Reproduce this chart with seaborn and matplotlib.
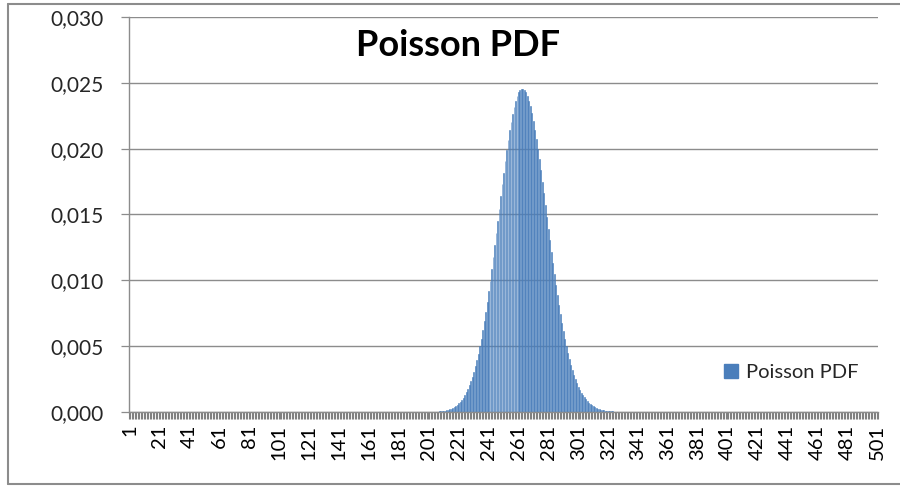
import matplotlib
matplotlib.use("Agg")
import matplotlib.pyplot as plt
import seaborn as sns
import pandas as pd
import numpy as np
from matplotlib.ticker import FuncFormatter
from matplotlib.lines import Line2D

# ---------------- data ----------------
categories = list(range(1, 502))          # category axis 1..501
k_values = list(range(181, 361))          # categories that carry a value
pdf_values = [
    1.25e-8, 1.81e-8, 2.61e-8, 3.74e-8, 5.34e-8, 7.58e-8, 1.07e-7, 1.50e-7, 2.10e-7, 2.92e-7,   # 181-190
    4.04e-7, 5.55e-7, 7.59e-7, 1.03e-6, 1.40e-6, 1.89e-6, 2.53e-6, 3.37e-6, 4.47e-6, 5.90e-6,   # 191-200
    7.75e-6, 1.01e-5, 1.31e-5, 1.70e-5, 2.20e-5, 2.81e-5, 3.59e-5, 4.55e-5, 5.75e-5, 7.23e-5,   # 201-210
    9.04e-5, 0.000113, 0.000140, 0.000172, 0.000211, 0.000258, 0.000314, 0.000381, 0.000459, 0.000551,  # 211-220
    0.000658, 0.000782, 0.000926, 0.001091, 0.001281, 0.001496, 0.001740, 0.002014, 0.002323, 0.002666,  # 221-230
    0.003046, 0.003466, 0.003927, 0.004430, 0.004977, 0.005567, 0.006201, 0.006878, 0.007597, 0.008357,  # 231-240
    0.009154, 0.009986, 0.010849, 0.011738, 0.012648, 0.013573, 0.014507, 0.015443, 0.016373, 0.017290,  # 241-250
    0.018185, 0.019052, 0.019880, 0.020662, 0.021392, 0.022060, 0.022661, 0.023188, 0.023636, 0.023999,  # 251-260
    0.024275, 0.024460, 0.024553, 0.024553, 0.024460, 0.024276, 0.024004, 0.023645, 0.023206, 0.022690,  # 261-270
    0.022104, 0.021454, 0.020746, 0.019989, 0.019190, 0.018355, 0.017494, 0.016613, 0.015720, 0.014821,  # 271-280
    0.013925, 0.013036, 0.012161, 0.011304, 0.010471, 0.009665, 0.008891, 0.008150, 0.007445, 0.006777,  # 281-290
    0.006148, 0.005559, 0.005008, 0.004497, 0.004024, 0.003589, 0.003190, 0.002826, 0.002495, 0.002195,  # 291-300
    0.001925, 0.001683, 0.001466, 0.001274, 0.001103, 0.000952, 0.000819, 0.000702, 0.000599, 0.000510,  # 301-310
    0.000433, 0.000367, 0.000309, 0.000260, 0.000218, 0.000182, 0.000152, 0.000126, 0.000104, 8.60e-5,   # 311-320
    7.07e-5, 5.80e-5, 4.74e-5, 3.86e-5, 3.14e-5, 2.54e-5, 2.05e-5, 1.65e-5, 1.32e-5, 1.06e-5,   # 321-330
    8.46e-6, 6.73e-6, 5.33e-6, 4.22e-6, 3.32e-6, 2.61e-6, 2.05e-6, 1.60e-6, 1.24e-6, 9.66e-7,   # 331-340
    7.48e-7, 5.77e-7, 4.44e-7, 3.41e-7, 2.61e-7, 1.99e-7, 1.51e-7, 1.15e-7, 8.7e-8, 6.6e-8,     # 341-350
    4.9e-8, 3.7e-8, 2.8e-8, 2.1e-8, 1.5e-8, 1.1e-8, 8.4e-9, 6.2e-9, 4.5e-9, 3.3e-9,             # 351-360
]
tick_labels = ["1", "21", "41", "61", "81", "101", "121", "141", "161", "181", "201", "221", "241",
               "261", "281", "301", "321", "341", "361", "381", "401", "421", "441", "461", "481", "501"]
y_ticks = [0.000, 0.005, 0.010, 0.015, 0.020, 0.025, 0.030]
chart_title = "Poisson PDF"
series_name = "Poisson PDF"

# ---------------- style ----------------
sns.set_style("white")
plt.rcParams['font.family'] = ['Lato', 'DejaVu Sans']

BAR = "#4A7EBB"
GRID = "#8C8C8C"

W, H = 900, 486
fig = plt.figure(figsize=(W / 100, H / 100), dpi=100)
ax = fig.add_axes([129 / W, 1 - 412 / H, (878 - 129) / W, (412 - 17) / H])

df = pd.DataFrame({"k": k_values, "pdf": pdf_values})
sns.barplot(data=df, x="k", y="pdf", order=categories, color=BAR, saturation=1,
            width=0.6, linewidth=0.4, edgecolor=BAR, errorbar=None, ax=ax)

ax.set_xlim(-0.5, len(categories) - 0.5)
ax.set_ylim(y_ticks[0], y_ticks[-1])
ax.set_xlabel("")
ax.set_ylabel("")

# x axis: labels every 20 categories, tick marks at every category boundary
label_pos = [categories.index(int(t)) for t in tick_labels]
ax.set_xticks(label_pos)
ax.set_xticklabels(tick_labels, rotation=90, fontsize=14.5, color="#000000")
ax.set_xticks(np.arange(-0.5, len(categories), 1.0), minor=True)
ax.tick_params(axis="x", which="major", bottom=True, length=0, pad=9)
ax.tick_params(axis="x", which="minor", bottom=True, length=5, width=0.8, color="#808080",
               direction="out")

# y axis
ax.set_yticks(y_ticks)
ax.yaxis.set_major_formatter(FuncFormatter(lambda v, p: f"{v:.3f}".replace(".", ",")))
ax.tick_params(axis="y", which="major", left=True, length=6, width=0.9, color=GRID,
               labelsize=15, pad=12)

ax.yaxis.grid(True, color=GRID, linewidth=1.0)
ax.xaxis.grid(False)
ax.set_axisbelow(True)

for s in ["top", "right"]:
    ax.spines[s].set_visible(False)
for s in ["left", "bottom"]:
    ax.spines[s].set_color(GRID)
    ax.spines[s].set_linewidth(1.0)

fig.text(458 / W, 1 - 45 / H, chart_title, ha="center", va="center",
         fontsize=26, fontweight="bold", color="#000000")

handle = Line2D([], [], marker="s", linestyle="none", markersize=10,
                markerfacecolor=BAR, markeredgecolor=BAR)
ax.legend([handle], [series_name], loc="center left", bbox_to_anchor=(713 / W, 1 - 372 / H),
          bbox_transform=fig.transFigure, frameon=False, fontsize=14.5,
          handlelength=0.8, handletextpad=0.35, borderpad=0)

# outer chart-area border (left, top, bottom)
fig.add_artist(Line2D([8 / W, 8 / W], [1 - 484 / H, 1 - 4 / H], transform=fig.transFigure,
                      color=GRID, linewidth=1.5))
fig.add_artist(Line2D([8 / W, 1.0], [1 - 4 / H, 1 - 4 / H], transform=fig.transFigure,
                      color=GRID, linewidth=1.5))
fig.add_artist(Line2D([8 / W, 1.0], [1 - 484 / H, 1 - 484 / H], transform=fig.transFigure,
                      color=GRID, linewidth=1.5))

fig.savefig("out.png", dpi=100)
